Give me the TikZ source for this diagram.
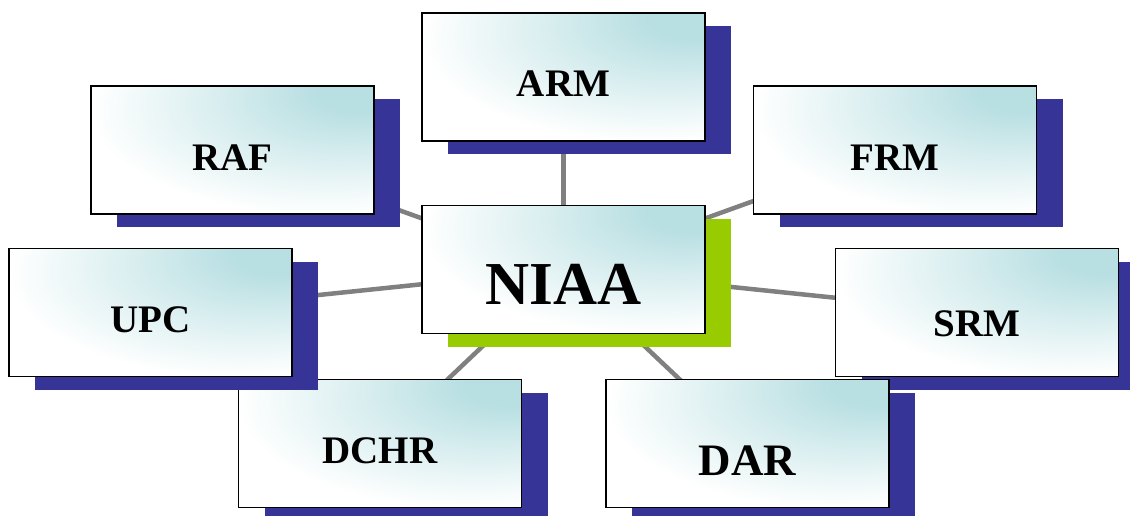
\documentclass[tikz,border=0pt]{standalone}
\usepackage{fontspec}
\setmainfont{Liberation Serif}
\usetikzlibrary{shadows}
\definecolor{glow}{RGB}{184,223,226}
\colorlet{halfglow}{glow!55!white}
\definecolor{deepblue}{RGB}{54,52,150}
\definecolor{limegreen}{RGB}{153,204,0}
\definecolor{linkgray}{RGB}{128,128,128}
\pgfdeclareradialshading{cornerglow}{\pgfpoint{25bp}{25bp}}{color(0bp)=(glow); color(8bp)=(glow); color(22bp)=(halfglow); color(40bp)=(white); color(100bp)=(white)}
\pgfdeclarelayer{background}
\pgfsetlayers{background,main}
\tikzset{
    panel/.style={draw=black, line width=1.5pt, shading=cornerglow, minimum width=283pt, minimum height=128pt, inner sep=0pt, text depth=0pt, font=\fontsize{39}{39}\selectfont\bfseries, text height=41pt}, % common box look
    unit/.style={panel, drop shadow={shadow xshift=26pt, shadow yshift=-13pt, fill=deepblue, opacity=1}},
    hub/.style={panel, drop shadow={shadow xshift=26pt, shadow yshift=-13pt, fill=limegreen, opacity=1}},
    link/.style={draw=linkgray, line width=4.5pt},
}

\begin{document}
\begin{tikzpicture}[x=1pt, y=-1pt]
    \useasboundingbox (0,0) rectangle (1130,515);

    % Boxes
    \node[unit, text height=39pt] (arm) at (563.5,77) {ARM};
    \node[unit] (raf) at (232.5,150) {RAF};
    \node[unit] (frm) at (895,150) {FRM};
    \node[hub, font=\fontsize{61}{61}\selectfont\bfseries, text height=70pt] (niaa) at (563.5,269.5) {NIAA};
    \node[unit, text height=48pt] (srm) at (977,312.5) {SRM};
    \node[unit, font=\fontsize{45}{45}\selectfont\bfseries, text height=64pt] (dar) at (747.5,443.5) {DAR};
    \node[unit, text height=40pt] (dchr) at (380,443.5) {DCHR};
    \node[unit, text height=40pt] (upc) at (150.5,312.5) {UPC};

    % Links
    \begin{pgfonlayer}{background}
        \path[link] (niaa.center) edge (arm.center)
                                  edge (raf.center)
                                  edge (frm.center)
                                  edge (upc.center)
                                  edge (srm.center)
                                  edge (dchr.center)
                                  edge (dar.center);
    \end{pgfonlayer}
\end{tikzpicture}
\end{document}
